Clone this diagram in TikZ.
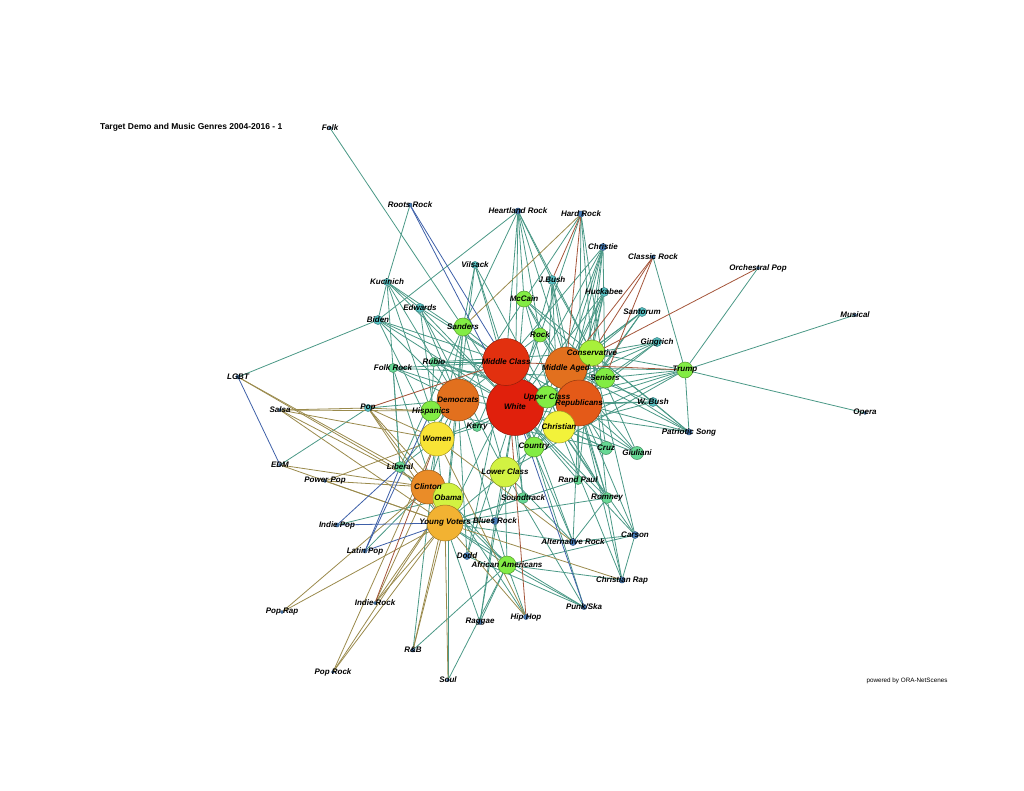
\documentclass[tikz,border=0pt]{standalone}
\usepackage{fontspec}
\setsansfont{Liberation Sans}
\pgfdeclarelayer{edges}
\pgfdeclarelayer{labels}
\pgfsetlayers{edges,main,labels}
\definecolor{cRed}{HTML}{E0200C}
\definecolor{cRedb}{HTML}{E2300F}
\definecolor{cOr}{HTML}{E2701E}
\definecolor{cOrb}{HTML}{E45A18}
\definecolor{cOrc}{HTML}{EA8C28}
\definecolor{cOrd}{HTML}{F2B232}
\definecolor{cYel}{HTML}{F8E436}
\definecolor{cYelb}{HTML}{F2F23A}
\definecolor{cYg}{HTML}{D2F242}
\definecolor{cYgb}{HTML}{A8F03A}
\definecolor{cGr}{HTML}{82EC44}
\definecolor{cLg}{HTML}{66D894}
\definecolor{cCy}{HTML}{58C2C4}
\definecolor{cBl}{HTML}{4A80BC}
\definecolor{eTeal}{HTML}{4A9886}
\definecolor{eOlive}{HTML}{9A8A4C}
\definecolor{eBlue}{HTML}{3E60A8}
\definecolor{eRust}{HTML}{A4553A}
\begin{document}
\begin{tikzpicture}[x=1pt,y=-1pt,
  pnode/.style={circle,inner sep=0pt,fill=#1,draw=#1!65!black,line width=.5pt},
  lbl/.style={inner sep=0pt,font=\sffamily\bfseries\itshape\fontsize{8}{9}\selectfont},
  eT/.style={draw=eTeal,line width=.8pt},
  eG/.style={draw=eOlive,line width=.8pt},
  eB/.style={draw=eBlue,line width=.8pt},
  eR/.style={draw=eRust,line width=.8pt}]
\useasboundingbox (0,0) rectangle (1024,791);
%
\node[anchor=west,inner sep=0pt,font=\sffamily\bfseries\fontsize{8.5}{10}\selectfont] (title) at (100,127) {Target Demo and Music Genres 2004-2016 - 1};
\node[inner sep=0pt,font=\sffamily\fontsize{6.3}{7}\selectfont] (ora) at (907,681) {powered by ORA-NetScenes};
%
% agents and genres
\foreach \n/\x/\y/\d/\c/\t in {
  wh/515/407/57/cRed/White, mc/506/362/47/cRedb/Middle Class,
  ma/566/368/42/cOr/Middle Aged, rep/579/403/46/cOrb/Republicans,
  dem/458/400/42/cOr/Democrats, wom/437/439/34/cYel/Women,
  chr/559/427/32/cYelb/Christian, cli/428/487/34/cOrc/Clinton,
  oba/448/498/30/cYg/Obama, yv/445/523/36/cOrd/Young Voters,
  lc/505/472/30/cYg/Lower Class, con/592/353/26/cYgb/Conservative,
  sen/605/378/20/cGr/Seniors, uc/547/397/22/cGr/Upper Class,
  his/431/411/20/cGr/Hispanics, cou/534/447/20/cGr/Country,
  mcc/524/299/16/cGr/McCain, san/463/327/18/cGr/Sanders,
  rock/540/335/14/cGr/Rock, tru/685/370/16/cGr/Trump,
  aa/507/565/18/cGr/African Americans, cruz/606/448/13/cLg/Cruz,
  giu/637/453/13/cLg/Giuliani, rom/607/498/11/cLg/Romney,
  snd/523/498/11/cLg/Soundtrack, lib/400/467/11/cLg/Liberal,
  ker/477/427/9/cLg/Kerry, rp/578/480/9/cLg/Rand Paul,
  frk/393/368/9/cLg/Folk Rock, rub/434/362/9/cLg/Rubio,
  edw/420/308/9/cCy/Edwards, bid/378/320/9/cCy/Biden,
  kuc/387/282/7/cCy/Kucinich, vil/475/265/7/cCy/Vilsack,
  jb/552/280/9/cCy/J.Bush, huc/604/292/9/cCy/Huckabee,
  sant/642/312/9/cCy/Santorum, gin/657/342/9/cCy/Gingrich,
  wb/653/402/9/cCy/W. Bush, pop/368/408/7/cCy/Pop,
  chs/603/247/7/cBl/Christie, hr/518/211/6/cBl/Heartland Rock,
  hdr/581/214/6/cBl/Hard Rock, rr/410/205/4/cBl/Roots Rock,
  clr/653/257/4/cBl/Classic Rock, ps/689/432/6/cBl/Patriotic Song,
  car/635/535/7/cBl/Carson, alt/573/542/7/cBl/Alternative Rock,
  br/495/521/7/cBl/Blues Rock, dod/467/556/7/cBl/Dodd,
  cr/622/580/6/cBl/Christian Rap, pun/584/607/5/cBl/{Punk/Ska},
  hh/526/617/5/cBl/Hip Hop, rag/480/622/5/cBl/Raggae,
  rb/413/650/4/cBl/R\&B, soul/448/680/3/cBl/Soul,
  ip/337/525/4/cBl/Indie Pop, lp/365/551/4/cBl/Latin Pop,
  ir/375/603/3/cBl/Indie Rock, prap/282/612/3/cBl/Pop Rap,
  prock/333/672/3/cBl/Pop Rock, ppop/325/481/3/cBl/Power Pop,
  edm/280/465/3/cBl/EDM, sal/280/410/3/cBl/Salsa,
  lgbt/238/377/4/cBl/LGBT, folk/330/128/3/cBl/Folk,
  op/758/268/3/cBl/Orchestral Pop, mus/855/315/3/cBl/Musical,
  opera/865/413/3/cBl/Opera}
{
  \node[pnode=\c,minimum size=\d pt] (\n) at (\x,\y) {};
  \begin{pgfonlayer}{labels}
    \node[lbl] (\n-t) at (\n) {\t};
  \end{pgfonlayer}
}
%
\begin{pgfonlayer}{edges}
% teal links
\foreach \a/\b in {folk/san, rr/kuc, hr/san, hr/mcc, hr/mc, hr/wh, hr/rock, hr/jb,
  hr/con, hr/rep, hr/bid, hdr/dem, hdr/rock, hdr/rep, hdr/con, hdr/sen,
  chs/rep, chs/ma, chs/con, chs/wh, chs/chr, chs/sen, chs/uc, chs/mc,
  clr/tru, op/tru, mus/tru, opera/tru, vil/mc, vil/wh, vil/dem, vil/san, vil/uc,
  jb/rep, jb/ma, jb/wh, jb/con, jb/chr, jb/uc, kuc/bid, kuc/dem, kuc/lib, kuc/wh,
  kuc/mc, kuc/edw, kuc/his, mcc/rep, mcc/con, mcc/wh, mcc/ma, mcc/sen, mcc/chr,
  huc/chr, huc/rep, huc/con, huc/ma, huc/wh, huc/cou, edw/dem, edw/wh, edw/mc,
  edw/lc, edw/wom, sant/chr, sant/con, sant/rep, sant/ma, sant/wh,
  san/dem, san/yv, san/wh, san/mc, san/lib, san/lc, san/wom,
  rock/wh, rock/mc, rock/ma, rock/yv, rock/rep, gin/rep, gin/con, gin/ma, gin/wh,
  gin/sen, bid/dem, bid/wh, bid/mc, bid/uc, bid/wom, bid/lgbt,
  tru/wh, tru/ma, tru/rep, tru/con, tru/lc, tru/sen, tru/chr,
  rub/his, rub/rep, rub/wh, rub/con, rub/uc, rub/mc,
  frk/wh, frk/mc, frk/yv, frk/dem, frk/lib, frk/sen, ker/dem, ker/wh, ker/mc, ker/wom,
  ps/rep, ps/con, ps/sen, ps/wb, ps/wh, ps/ma, ps/tru, wb/rep, wb/chr, wb/con,
  wb/wh, wb/ma, cou/wh, cou/chr, cou/rep, cou/lc, cou/mc,
  cruz/rep, cruz/chr, cruz/con, cruz/wh, cruz/his, giu/rep, giu/wh, giu/ma,
  giu/uc, giu/con, lib/dem, lib/yv, lib/wom, rp/rep, rp/wh, rp/yv, rp/con,
  snd/wh, snd/yv, snd/mc, rom/rep, rom/wh, rom/uc, rom/chr, rom/ma, rom/yv, rom/con,
  br/wh, br/ma, br/yv, car/rep, car/chr, car/con, car/alt, car/aa, car/cr, car/wh,
  alt/wh, alt/yv, alt/mc, alt/lc, alt/rom, alt/rep, dod/dem, dod/wh, dod/mc,
  aa/dem, aa/oba, aa/yv, aa/lc, aa/cli, cr/chr, cr/aa, cr/rep, cr/rom,
  pun/yv, pun/lc, pun/mc, pun/dod, pun/aa, hh/aa, hh/oba, rag/aa, rag/yv, rag/br, rag/lc,
  rb/aa, rb/wom, soul/aa, soul/oba, pop/edm, pop/dem, ip/oba, lp/cli,
  wh/mc, wh/ma, wh/rep, wh/dem, wh/chr, wh/wom, mc/dem, mc/rep, rep/con,
  rep/chr, dem/wom, dem/cli, dem/oba, cli/wom, oba/yv, cli/yv, wom/yv,
  dem/his, ma/sen, rep/sen, ma/con, wh/lc, lc/yv, uc/rep, uc/mc}
  \draw[eT] (\a) -- (\b);
% olive links
\foreach \a/\b in {hdr/san, lgbt/lib, lgbt/cli, sal/pop, sal/his, sal/wom, sal/yv,
  sal/cli, pop/wom, pop/yv, pop/his, pop/cli, pop/oba, edm/yv, edm/cli,
  ppop/yv, ppop/wom, ppop/cli, prap/yv, prap/cli, ir/yv, ir/cli, ir/oba,
  prock/yv, prock/oba, prock/wom, rb/yv, rb/oba, soul/yv, hh/yv, hh/wom,
  cr/yv, alt/wom}
  \draw[eG] (\a) -- (\b);
% blue links
\foreach \a/\b in {rr/mc, rr/wh, lgbt/edm, ip/yv, ip/lib, lp/his, lp/yv, lp/lib, pun/wh}
  \draw[eB] (\a) -- (\b);
% rust links
\foreach \a/\b in {hdr/ma, hdr/jb, clr/ma, clr/sen, clr/con, op/ma, tru/mc, hh/mc,
  ir/wom, pop/mc}
  \draw[eR] (\a) -- (\b);
\end{pgfonlayer}
\end{tikzpicture}
\end{document}
